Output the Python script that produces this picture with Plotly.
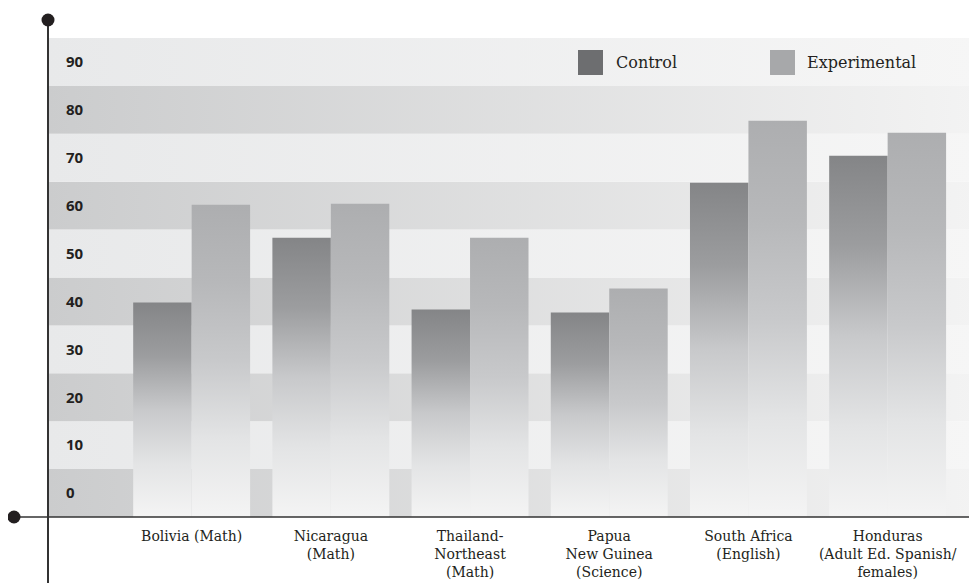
import plotly.graph_objects as go

categories = ["Bolivia (Math)", "Nicaragua<br>(Math)", "Thailand-<br>Northeast<br>(Math)",
              "Papua<br>New Guinea<br>(Science)", "South Africa<br>(English)",
              "Honduras<br>(Adult Ed. Spanish/<br>females)"]
control = [39.8, 53.3, 38.3, 37.7, 64.8, 70.4]
experimental = [60.2, 60.4, 53.3, 42.7, 77.7, 75.2]
y_ticks = [0, 10, 20, 30, 40, 50, 60, 70, 80, 90]

X_RANGE = [-1.032, 5.642]
Y_RANGE = [-5, 95]
HALF = 0.42

fig = go.Figure()

# background bands with horizontal fade
for k, t in enumerate(y_ticks):
    left = "#cbcccd" if k % 2 == 0 else "#e8e9ea"
    right = "#f3f3f3" if k % 2 == 0 else "#f6f6f6"
    fig.add_trace(go.Scatter(
        x=[X_RANGE[0], X_RANGE[1], X_RANGE[1], X_RANGE[0], X_RANGE[0]],
        y=[t - 5, t - 5, t + 5, t + 5, t - 5],
        mode="lines", fill="toself",
        line=dict(width=0, color="rgba(0,0,0,0)"),
        fillgradient=dict(type="horizontal",
                          colorscale=[[0, left], [1, right]]),
        hoverinfo="skip", showlegend=False))

def add_bars(values, offset, top_col, q3_col, name):
    for i, v in enumerate(values):
        x0 = i + offset
        x1 = x0 + HALF
        fig.add_trace(go.Scatter(
            x=[x0, x1, x1, x0, x0],
            y=[Y_RANGE[0], Y_RANGE[0], v, v, Y_RANGE[0]],
            mode="lines", fill="toself",
            line=dict(width=0, color="rgba(0,0,0,0)"),
            fillgradient=dict(type="vertical",
                              colorscale=[[0, "#f4f4f4"], [0.25, "#e3e4e5"],
                                          [0.5, "#c8c9cb"], [0.75, q3_col],
                                          [1, top_col]]),
            name=name, hovertemplate=f"{name}: {v}<extra></extra>",
            showlegend=False))

add_bars(control, -HALF, "#848587", "#9c9d9f", "Control")
add_bars(experimental, 0, "#adaeb0", "#b7b8ba", "Experimental")

line_col = "#333333"
shapes = [
    dict(type="line", xref="paper", yref="paper", x0=0, x1=0, y0=1.0376, y1=-0.2,
         line=dict(color=line_col, width=2)),
    dict(type="line", xref="paper", yref="paper", x0=-0.0366, x1=1.01, y0=0, y1=0,
         line=dict(color=line_col, width=1.6)),
]
for (px, py) in [(0, 1.0376), (-0.0366, 0), (1.003, 1.04)]:
    shapes.append(dict(type="circle", xref="paper", yref="paper",
                       xsizemode="pixel", ysizemode="pixel",
                       xanchor=px, yanchor=py, x0=-6.5, x1=6.5, y0=-6.5, y1=6.5,
                       fillcolor="#231f20", line=dict(width=0)))
# legend swatches
shapes.append(dict(type="rect", xref="paper", yref="paper", x0=0.5705, x1=0.5974,
                   y0=0.9228, y1=0.975, fillcolor="#6d6e70", line=dict(width=0)))
shapes.append(dict(type="rect", xref="paper", yref="paper", x0=0.7772, x1=0.8041,
                   y0=0.9228, y1=0.975, fillcolor="#a7a8aa", line=dict(width=0)))

annotations = [
    dict(text="Control", xref="paper", yref="paper", x=0.6093, y=0.9489,
         xanchor="left", yanchor="middle", showarrow=False,
         font=dict(family="DejaVu Serif", size=16, color="#231f20")),
    dict(text="Experimental", xref="paper", yref="paper", x=0.8149, y=0.9489,
         xanchor="left", yanchor="middle", showarrow=False,
         font=dict(family="DejaVu Serif", size=16, color="#231f20")),
]

fig.update_layout(
    width=969, height=575,
    margin=dict(l=40, r=0, t=30, b=66),
    paper_bgcolor="white", plot_bgcolor="white",
    shapes=shapes, annotations=annotations,
    showlegend=False,
    xaxis=dict(range=X_RANGE, tickvals=list(range(len(categories))), ticktext=categories,
               showgrid=False, zeroline=False, showline=False,
               ticks="outside", ticklen=6, tickcolor="rgba(0,0,0,0)",
               tickfont=dict(family="DejaVu Serif", size=14, color="#231f20"),
               automargin=False, fixedrange=True),
    yaxis=dict(range=Y_RANGE, tickvals=y_ticks, ticktext=[f"<b>{t}</b>" for t in y_ticks],
               showgrid=False, zeroline=False, showline=False,
               ticklabelposition="inside", ticks="", ticklabelstandoff=15,
               tickfont=dict(family="Open Sans", size=15, color="#231f20"),
               fixedrange=True),
)

fig.write_html("out.html")
